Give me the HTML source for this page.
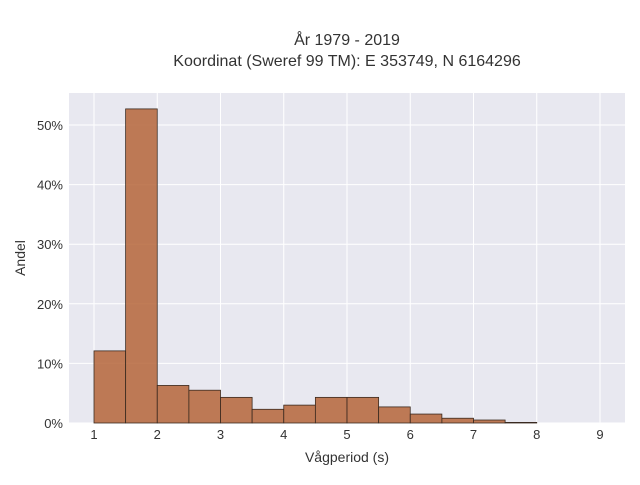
<!DOCTYPE html>
<html><head><meta charset="utf-8"><style>
body{margin:0;background:#fff;font-family:"Liberation Sans",sans-serif;}
svg text{fill:#333;font-family:"Liberation Sans",sans-serif;}
</style></head><body>
<svg id="c" width="640" height="480">
<text x="347" y="45" text-anchor="middle" font-size="16">År 1979 - 2019</text>
<text x="347" y="66" text-anchor="middle" font-size="16">Koordinat (Sweref 99 TM): E 353749, N 6164296</text>
<rect x="69" y="93" width="556" height="330" fill="#e8e8f0"/>
<g id="grid"></g><g id="bars"></g><g id="ticks"></g>
<text x="347" y="462" text-anchor="middle" font-size="14">Vågperiod (s)</text>
<text x="25" y="258" text-anchor="middle" font-size="14" transform="rotate(-90 25 258)">Andel</text>
</svg>
<script>
const binStarts=[1,1.5,2,2.5,3,3.5,4,4.5,5,5.5,6,6.5,7,7.5];
const shares=[12.1,52.7,6.3,5.5,4.3,2.3,3.0,4.3,4.3,2.7,1.5,0.8,0.5,0.1];
const binWidth=0.5;
const xTicks=[1,2,3,4,5,6,7,8,9];
const yTicks=[0,10,20,30,40,50];
const X=v=>94+(v-1)*63.25;
const Y=v=>423-v*5.96;
const ns="http://www.w3.org/2000/svg";
const g=document.getElementById('grid'),b=document.getElementById('bars'),t=document.getElementById('ticks');
function mk(tag,attrs,parent){const e=document.createElementNS(ns,tag);for(const k in attrs)e.setAttribute(k,attrs[k]);parent.appendChild(e);return e;}
xTicks.forEach(v=>{
const l=mk('line',{x1:X(v),x2:X(v),y1:93,y2:423,stroke:'#fff','stroke-width':1},g);


const tx=mk('text',{x:X(v),y:439,'text-anchor':'middle','font-size':13},t);tx.textContent=v;


});
yTicks.forEach(v=>{
const l=mk('line',{x1:69,x2:625,y1:Y(v),y2:Y(v),stroke:'#fff','stroke-width':1},g);


const tx=mk('text',{x:63,y:Y(v)+5,'text-anchor':'end','font-size':13},t);tx.textContent=v+'%';


});
binStarts.forEach((s,i)=>{
const r=mk('rect',{x:X(s),y:Y(shares[i]),width:X(s+binWidth)-X(s),height:Y(0)-Y(shares[i]),fill:'#b5653a','fill-opacity':0.85,stroke:'#3a2a20','stroke-width':0.8},b);


});
</script>
</body></html>
